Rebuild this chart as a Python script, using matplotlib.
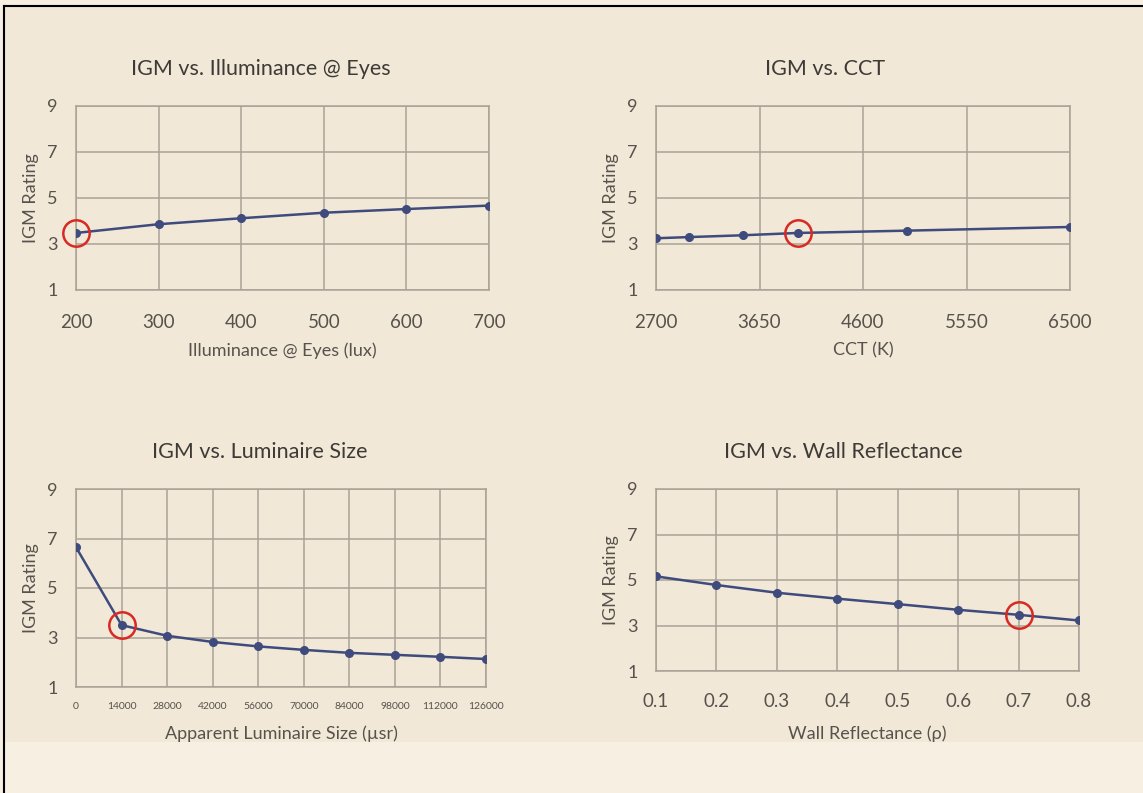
"""IGM rating sensitivity plots"""
import matplotlib.pyplot as plt
from matplotlib.patches import Rectangle
from matplotlib.lines import Line2D

plt.rcParams['font.family'] = ['Lato', 'DejaVu Sans']

# data
illum = [200, 300, 400, 500, 600, 700]
igm_illum = [3.48, 3.86, 4.12, 4.36, 4.52, 4.67]

cct = [2700, 3000, 3500, 4000, 5000, 6500]
igm_cct = [3.25, 3.30, 3.38, 3.48, 3.58, 3.74]
cct_ticks = [2700, 3650, 4600, 5550, 6500]

lum_size = [0, 14000, 28000, 42000, 56000, 70000, 84000, 98000, 112000, 126000]
igm_lum = [6.65, 3.50, 3.07, 2.82, 2.64, 2.50, 2.38, 2.30, 2.22, 2.13]

refl = [0.1, 0.2, 0.3, 0.4, 0.5, 0.6, 0.7, 0.8]
igm_refl = [5.16, 4.78, 4.44, 4.18, 3.94, 3.69, 3.47, 3.22]

# highlighted baseline point in each panel
base_idx = {'illum': 0, 'cct': 3, 'lum': 1, 'refl': 6}

W, H = 1143, 793
bg_inner = '#f1e8d8'
bg_outer = '#f6efe2'
line_col = '#3f4b7c'
grid_col = '#a9a296'
text_col = '#57524b'
red = '#d82a22'

fig = plt.figure(figsize=(W / 100, H / 100), dpi=100, facecolor=bg_outer)

# panel background and border
fig.patches.append(Rectangle((4 / W, 1 - 742 / H), 1 - 4 / W, (742 - 6) / H,
                             transform=fig.transFigure, facecolor=bg_inner,
                             edgecolor='none', zorder=-10))
fig.lines.append(Line2D([4 / W, 1], [1 - 6 / H, 1 - 6 / H], transform=fig.transFigure,
                        color='black', lw=1.5, zorder=-5))
fig.lines.append(Line2D([4 / W, 4 / W], [0, 1 - 6 / H], transform=fig.transFigure,
                        color='black', lw=1.5, zorder=-5))


def make_ax(x0, y0, x1, y1):
    return fig.add_axes([x0 / W, 1 - y1 / H, (x1 - x0) / W, (y1 - y0) / H])


def style(ax, x, y, hi, title, xlabel, xticks, xlim, title_dx, xlab_top,
          tick_fs=13.5, tick_pad=17):
    ax.set_facecolor('none')
    ax.plot(x, y, color=line_col, lw=1.8, marker='o', ms=5.5, zorder=3)
    ax.plot(x[hi], y[hi], marker='o', ms=19, mfc='none', mec=red, mew=1.8,
            zorder=4, clip_on=False)
    ax.set_xlim(*xlim)
    ax.set_ylim(1, 9)
    ax.set_yticks([1, 3, 5, 7, 9])
    ax.set_xticks(xticks)
    ax.grid(True, color=grid_col, lw=1.1)
    ax.set_axisbelow(True)
    for s in ax.spines.values():
        s.set_color(grid_col)
        s.set_linewidth(1.1)
    ax.tick_params(length=0, colors=text_col, labelsize=13)
    ax.tick_params(axis='x', labelsize=tick_fs, pad=tick_pad)
    ax.tick_params(axis='y', pad=13)
    w_px = ax.get_position().width * W
    h_px = ax.get_position().height * H
    # Excel-style: title centred over the whole chart block, not the plot frame
    ax.set_title(title, fontsize=15.5, color='#3e3a35', pad=22,
                 x=0.5 + title_dx / w_px)
    ax.set_xlabel(xlabel, fontsize=13, color=text_col)
    ax.xaxis.set_label_coords(0.5, -xlab_top / h_px)
    ax.set_ylabel('IGM Rating', fontsize=13, color=text_col)
    ax.yaxis.set_label_coords(-37 / w_px, 0.5)


ax1 = make_ax(76, 106, 489, 290)
style(ax1, illum, igm_illum, base_idx['illum'], 'IGM vs. Illuminance @ Eyes',
      'Illuminance @ Eyes (lux)', illum, (200, 700), -22, 52)

ax2 = make_ax(656, 106, 1070, 290)
style(ax2, cct, igm_cct, base_idx['cct'], 'IGM vs. CCT', 'CCT (K)',
      cct_ticks, (2700, 6500), -38, 52)

ax3 = make_ax(76, 489, 486, 687)
style(ax3, lum_size, igm_lum, base_idx['lum'], 'IGM vs. Luminaire Size',
      'Apparent Luminaire Size (\u00b5sr)', lum_size, (0, 126000), -21, 38,
      tick_fs=7.5, tick_pad=10.5)

ax4 = make_ax(656, 489, 1079, 671)
style(ax4, refl, igm_refl, base_idx['refl'], 'IGM vs. Wall Reflectance',
      'Wall Reflectance (\u03c1)', refl, (0.1, 0.8), -24, 54, tick_pad=16)

fig.savefig('out.png', dpi=100, facecolor=fig.get_facecolor())
